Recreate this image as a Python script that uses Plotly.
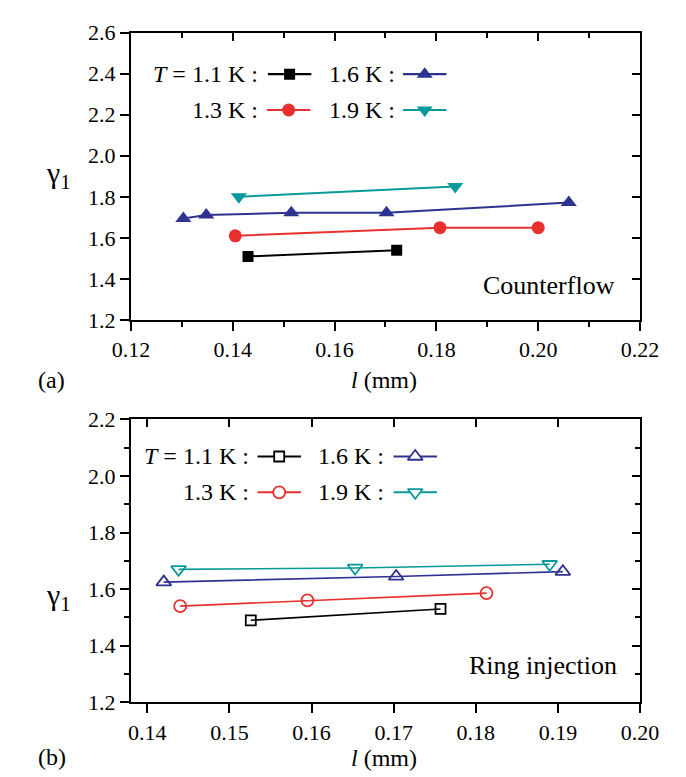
import plotly.graph_objects as go

W, H = 686, 777

# ---------------- data ----------------
# Panel (a) Counterflow
a_l_11 = [0.1430, 0.1722]
a_g_11 = [1.51, 1.54]
a_l_13 = [0.1405, 0.1807, 0.2000]
a_g_13 = [1.61, 1.65, 1.65]
a_l_16 = [0.1303, 0.1348, 0.1515, 0.1702, 0.2060]
a_g_16 = [1.695, 1.712, 1.722, 1.722, 1.772]
a_l_19 = [0.1412, 0.1837]
a_g_19 = [1.80, 1.85]

# Panel (b) Ring injection
b_l_11 = [0.1526, 0.1757]
b_g_11 = [1.49, 1.53]
b_l_13 = [0.1440, 0.1595, 0.1813]
b_g_13 = [1.54, 1.56, 1.586]
b_l_16 = [0.1420, 0.1703, 0.1906]
b_g_16 = [1.625, 1.645, 1.662]
b_l_19 = [0.1438, 0.1653, 0.1890]
b_g_19 = [1.67, 1.675, 1.688]

temps = ["1.1", "1.3", "1.6", "1.9"]
colors = ["#000000", "#e8302e", "#2e3391", "#0a999a"]
symbols = ["square", "circle", "triangle-up", "triangle-down"]
sizes = [11, 13, 14, 14]

FONT = "Liberation Serif"

def fx(px):
    return px / W

def fy(py):
    return 1 - py / H

fig = go.Figure()

panelA = [(a_l_11, a_g_11), (a_l_13, a_g_13), (a_l_16, a_g_16), (a_l_19, a_g_19)]
panelB = [(b_l_11, b_g_11), (b_l_13, b_g_13), (b_l_16, b_g_16), (b_l_19, b_g_19)]

for i, (xs, ys) in enumerate(panelA):
    fig.add_trace(go.Scatter(x=xs, y=ys, mode="lines+markers", xaxis="x", yaxis="y",
                             line=dict(color=colors[i], width=2),
                             marker=dict(symbol=symbols[i], size=sizes[i], color=colors[i]),
                             showlegend=False))
for i, (xs, ys) in enumerate(panelB):
    fig.add_trace(go.Scatter(x=xs, y=ys, mode="lines+markers", xaxis="x3", yaxis="y3",
                             line=dict(color=colors[i], width=1.6),
                             marker=dict(symbol=symbols[i] + "-open", size=sizes[i] - 1,
                                         color=colors[i], line=dict(width=1.8, color=colors[i])),
                             showlegend=False))

# empty traces to create mirror axes
fig.add_trace(go.Scatter(x=[], y=[], xaxis="x2", yaxis="y2", showlegend=False))
fig.add_trace(go.Scatter(x=[], y=[], xaxis="x4", yaxis="y4", showlegend=False))

# legend sample keys (on helper axes in pixel units)
leg_axes = [("x5", "y5"), ("x6", "y6")]
keyA_x = [278, 277, 421, 421]
keyA_y = [56, 93, 56, 93]
keyB_x = [267, 267, 411, 411]
keyB_y = [451, 488, 451, 488]

for i in range(4):
    for (xa, ya), kx, ky, filled in [(leg_axes[0], keyA_x[i], keyA_y[i], True),
                                      (leg_axes[1], keyB_x[i], keyB_y[i], False)]:
        half = 23
        fig.add_trace(go.Scatter(x=[kx - half, kx + half], y=[ky, ky], mode="lines",
                                 xaxis=xa, yaxis=ya, showlegend=False,
                                 line=dict(color=colors[i], width=2.2 if filled else 2)))
        if filled:
            mk = dict(symbol=symbols[i], size=sizes[i], color=colors[i])
        else:
            mk = dict(symbol=symbols[i], size=sizes[i] - 1, color="white",
                      line=dict(width=1.8, color=colors[i]))
        fig.add_trace(go.Scatter(x=[kx], y=[ky], mode="markers", xaxis=xa, yaxis=ya,
                                 showlegend=False, marker=mk))

xa_dom = [fx(110), fx(649)]
ya_dom = [fy(310), fy(13)]
yb_dom = [fy(705), fy(412.7)]

tickfont = dict(family=FONT, size=22, color="black")
common = dict(showgrid=False, zeroline=False, showline=True, linecolor="black",
              linewidth=2, tickcolor="black", tickwidth=1.6, tickfont=tickfont)

layout = dict(
    width=W, height=H, margin=dict(l=0, r=0, t=0, b=0),
    paper_bgcolor="white", plot_bgcolor="white",
    # panel a
    xaxis=dict(domain=xa_dom, anchor="y", range=[0.12, 0.22], dtick=0.02, tick0=0.12,
               tickformat=".2f", ticks="outside", ticklen=9,
               minor=dict(dtick=0.01, tick0=0.12, ticks="outside", ticklen=5,
                          tickcolor="black", tickwidth=1.6), **common),
    yaxis=dict(domain=ya_dom, anchor="x", range=[1.2, 2.6], dtick=0.2, tick0=1.2,
               tickformat=".1f", ticks="outside", ticklen=9, **common),
    xaxis2=dict(overlaying="x", anchor="y", side="top", range=[0.12, 0.22], dtick=0.02,
                tick0=0.12, ticks="inside", ticklen=8, showticklabels=False,
                minor=dict(dtick=0.01, tick0=0.12, ticks="inside", ticklen=5,
                           tickcolor="black", tickwidth=1.6), **common),
    yaxis2=dict(overlaying="y", anchor="x", side="right", range=[1.2, 2.6], dtick=0.2,
                tick0=1.2, ticks="inside", ticklen=8, showticklabels=False, **common),
    # panel b
    xaxis3=dict(domain=xa_dom, anchor="y3", range=[0.138, 0.20], dtick=0.01, tick0=0.14,
                tickformat=".2f", ticks="outside", ticklen=9, **common),
    yaxis3=dict(domain=yb_dom, anchor="x3", range=[1.2, 2.2], dtick=0.2, tick0=1.2,
                tickformat=".1f", ticks="outside", ticklen=9,
                minor=dict(dtick=0.1, tick0=1.2, ticks="outside", ticklen=5,
                           tickcolor="black", tickwidth=1.6), **common),
    xaxis4=dict(overlaying="x3", anchor="y3", side="top", range=[0.138, 0.20], dtick=0.01,
                tick0=0.14, ticks="inside", ticklen=8, showticklabels=False, **common),
    yaxis4=dict(overlaying="y3", anchor="x3", side="right", range=[1.2, 2.2], dtick=0.2,
                tick0=1.2, ticks="inside", ticklen=8, showticklabels=False,
                minor=dict(dtick=0.1, tick0=1.2, ticks="inside", ticklen=5,
                           tickcolor="black", tickwidth=1.6), **common),
    # legend helper axes (pixel units)
    xaxis5=dict(domain=[fx(230), fx(470)], range=[230, 470], anchor="y5", visible=False),
    yaxis5=dict(domain=[fy(115), fy(35)], range=[115, 35], anchor="x5", visible=False),
    xaxis6=dict(domain=[fx(230), fx(470)], range=[230, 470], anchor="y6", visible=False),
    yaxis6=dict(domain=[fy(510), fy(430)], range=[510, 430], anchor="x6", visible=False),
)
fig.update_layout(**layout)

ann = []
def text(px, py, s, size=24, xanchor="center"):
    ann.append(dict(x=fx(px), y=fy(py), xref="paper", yref="paper", text=s, showarrow=False,
                    xanchor=xanchor, yanchor="middle",
                    font=dict(family=FONT, size=size, color="black")))

# legend texts
text(247, 56, "<i>T</i> = 1.1 K :", xanchor="right")
text(247, 93, "1.3 K :", xanchor="right")
text(392, 56, "1.6 K :", xanchor="right")
text(392, 93, "1.9 K :", xanchor="right")
text(237, 451, "<i>T</i> = 1.1 K :", xanchor="right")
text(237, 488, "1.3 K :", xanchor="right")
text(380, 451, "1.6 K :", xanchor="right")
text(380, 488, "1.9 K :", xanchor="right")

text(625, 274, "Counterflow", size=26, xanchor="right")
text(627, 667, "Ring injection", size=26, xanchor="right")

text(378, 372, "<i>l</i> (mm)", size=24)
text(378, 763, "<i>l</i> (mm)", size=24)

text(33, 160, "γ<sub>1</sub>", size=30)
text(33, 596, "γ<sub>1</sub>", size=30)

text(26, 372, "(a)", size=24)
text(26, 762, "(b)", size=24)

fig.update_layout(annotations=ann)

fig.write_html("out.html")
